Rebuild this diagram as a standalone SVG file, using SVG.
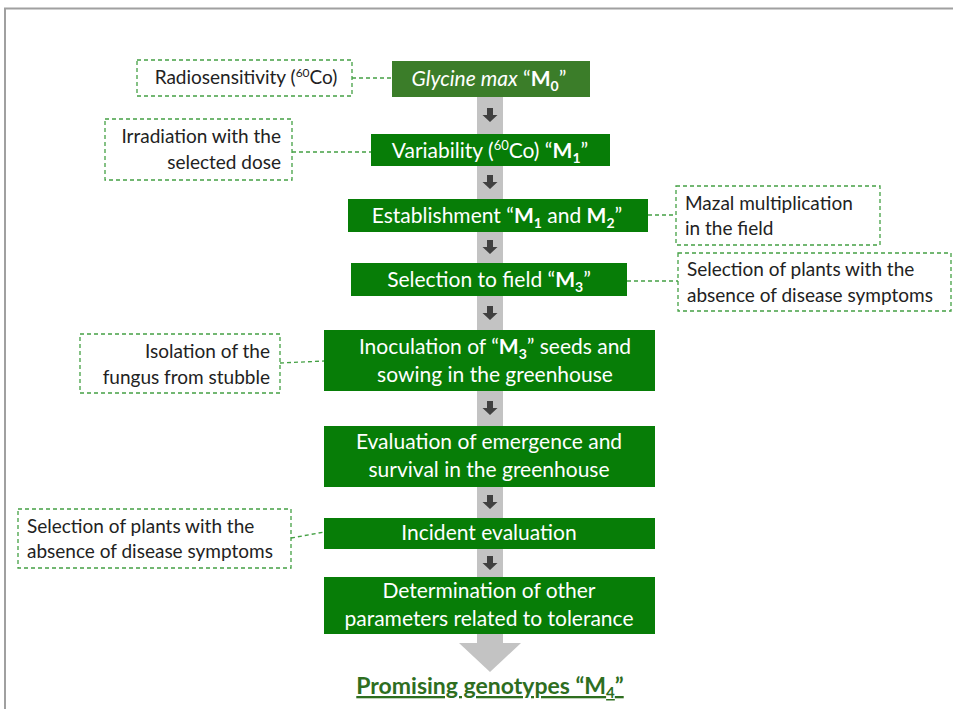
<svg xmlns="http://www.w3.org/2000/svg" width="953" height="709" viewBox="0 0 953 709">
<style>
.box{fill:#077d07}
.box0{fill:#3b7d29}
.bt{font-family:Lato,"Open Sans","Liberation Sans",sans-serif;font-size:21px;fill:#ffffff;text-anchor:middle}
.dbox{fill:#ffffff;stroke:#44a044;stroke-width:1.3;stroke-dasharray:4 3}
.dt{font-family:Lato,"Open Sans","Liberation Sans",sans-serif;font-size:19px;fill:#222222}
.con{fill:none;stroke:#44a044;stroke-width:1.3;stroke-dasharray:4 3}
.b{font-weight:bold}
.darr{fill:#404040}
</style>
<defs>
<path id="da" d="M-3,-7 h6 v7 h4.5 l-7.5,7 l-7.5,-7 h4.5 z"/>
</defs>
<rect x="0" y="0" width="953" height="709" fill="#ffffff"/>
<path d="M5,709 V8.5 H953" fill="none" stroke="#a0a0a0" stroke-width="2"/>

<g id="trunk">
<rect x="477" y="97" width="26" height="546" fill="#c3c3c3"/>
<polygon points="459,643 521,643 490,672" fill="#c3c3c3"/>
<use href="#da" x="490" y="115" class="darr"/>
<use href="#da" x="490" y="182" class="darr"/>
<use href="#da" x="490" y="247" class="darr"/>
<use href="#da" x="490" y="313" class="darr"/>
<use href="#da" x="490" y="408" class="darr"/>
<use href="#da" x="490" y="502" class="darr"/>
<use href="#da" x="490" y="563" class="darr"/>
</g>

<g id="connectors">
<path class="con" d="M352,78 H392"/>
<path class="con" d="M292,152 H371"/>
<path class="con" d="M648,215 H676"/>
<path class="con" d="M627,281 H678"/>
<path class="con" d="M280,363 L324,361"/>
<path class="con" d="M291,538 L324,532"/>
</g>

<g id="n0">
<rect class="box0" x="392" y="61" width="198" height="36"/>
<text class="bt" x="489" y="86" font-size="21.5"><tspan font-style="italic">Glycine max</tspan> “<tspan class="b">M<tspan font-size="14" dy="5">0</tspan></tspan><tspan dy="-5">”</tspan></text>
</g>
<g id="n1">
<rect class="box" x="371" y="134" width="239" height="32"/>
<text class="bt" x="490" y="158">Variability (<tspan font-size="13" dy="-8">60</tspan><tspan dy="8">Co) “</tspan><tspan class="b">M<tspan font-size="14" dy="5">1</tspan></tspan><tspan dy="-5">”</tspan></text>
</g>
<g id="n2">
<rect class="box" x="348" y="199" width="300" height="33"/>
<text class="bt" x="497" y="223">Establishment “<tspan class="b">M<tspan font-size="14" dy="5">1</tspan></tspan><tspan dy="-5"> and </tspan><tspan class="b">M<tspan font-size="14" dy="5">2</tspan></tspan><tspan dy="-5">”</tspan></text>
</g>
<g id="n3">
<rect class="box" x="351" y="263" width="276" height="33"/>
<text class="bt" x="489" y="287">Selection to field “<tspan class="b">M<tspan font-size="14" dy="5">3</tspan></tspan><tspan dy="-5">”</tspan></text>
</g>
<g id="n4">
<rect class="box" x="324" y="330" width="331" height="61"/>
<text class="bt" x="495" y="354">Inoculation of “<tspan class="b">M<tspan font-size="14" dy="5">3</tspan></tspan><tspan dy="-5">” seeds and</tspan></text>
<text class="bt" x="495" y="382">sowing in the greenhouse</text>
</g>
<g id="n5">
<rect class="box" x="324" y="426" width="331" height="61"/>
<text class="bt" x="489" y="449">Evaluation of emergence and</text>
<text class="bt" x="489" y="477">survival in the greenhouse</text>
</g>
<g id="n6">
<rect class="box" x="324" y="518" width="331" height="31"/>
<text class="bt" x="489" y="540">Incident evaluation</text>
</g>
<g id="n7">
<rect class="box" x="324" y="577" width="331" height="57"/>
<text class="bt" x="489" y="598">Determination of other</text>
<text class="bt" x="489" y="626">parameters related to tolerance</text>
</g>

<g id="nA">
<rect class="dbox" x="137" y="60" width="215" height="36"/>
<text class="dt" x="246" y="84" text-anchor="middle">Radiosensitivity (<tspan font-size="12" dy="-7">60</tspan><tspan dy="7">Co)</tspan></text>
</g>
<g id="nB">
<rect class="dbox" x="105" y="119" width="187" height="61"/>
<text class="dt" x="281" y="143" text-anchor="end">Irradiation with the</text>
<text class="dt" x="281" y="169" text-anchor="end">selected dose</text>
</g>
<g id="nC">
<rect class="dbox" x="676" y="186" width="204" height="59"/>
<text class="dt" x="685" y="210">Mazal multiplication</text>
<text class="dt" x="685" y="235">in the field</text>
</g>
<g id="nD">
<rect class="dbox" x="678" y="253" width="273" height="58"/>
<text class="dt" x="687" y="276">Selection of plants with the</text>
<text class="dt" x="687" y="302">absence of disease symptoms</text>
</g>
<g id="nE">
<rect class="dbox" x="80" y="334" width="200" height="59"/>
<text class="dt" x="270" y="358" text-anchor="end">Isolation of the</text>
<text class="dt" x="270" y="384" text-anchor="end">fungus from stubble</text>
</g>
<g id="nF">
<rect class="dbox" x="18" y="509" width="273" height="59"/>
<text class="dt" x="27" y="533">Selection of plants with the</text>
<text class="dt" x="27" y="558">absence of disease symptoms</text>
</g>

<g id="result">
<text x="490" y="694" text-anchor="middle" font-family="Lato,'Open Sans','Liberation Sans',sans-serif" font-size="23" font-weight="bold" fill="#2e6e1f" text-decoration="underline">Promising genotypes “M<tspan font-size="15" dy="4">4</tspan><tspan dy="-4">”</tspan></text>
</g>
</svg>
